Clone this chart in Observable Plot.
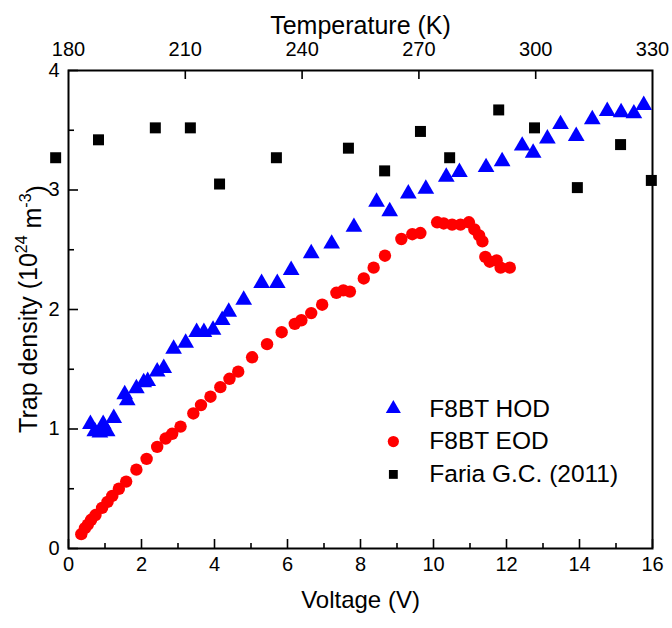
<!DOCTYPE html>
<html>
<head>
<meta charset="utf-8">
<script src="https://cdn.jsdelivr.net/npm/d3@7"></script>
<script src="https://cdn.jsdelivr.net/npm/@observablehq/plot@0.6"></script>
<style>
  html, body { margin: 0; padding: 0; background: #fff; }
  #chart { width: 672px; height: 628px; }
</style>
</head>
<body>
<div id="chart"></div>
<script>
// ---------- Data ----------
// F8BT HOD (blue triangles): voltage (V) and trap density (1e24 m^-3)
const hodVoltage = [0.60, 0.72, 0.86, 0.95, 1.06, 1.24, 1.54, 1.61, 1.86, 2.06, 2.17, 2.43, 2.61, 2.88, 3.21, 3.51, 3.71, 3.96, 4.21, 4.39, 4.80, 5.29, 5.72, 6.10, 6.65, 7.21, 7.82, 8.44, 8.80, 9.31, 9.79, 10.35, 10.71, 11.44, 11.88, 12.43, 12.73, 13.12, 13.48, 13.91, 14.35, 14.76, 15.14, 15.49, 15.76];
const hodDensity = [1.04, 0.98, 0.97, 1.04, 0.98, 1.09, 1.29, 1.24, 1.34, 1.39, 1.40, 1.48, 1.51, 1.67, 1.72, 1.81, 1.81, 1.83, 1.91, 1.98, 2.08, 2.22, 2.22, 2.33, 2.47, 2.55, 2.69, 2.90, 2.82, 2.97, 3.01, 3.11, 3.15, 3.19, 3.24, 3.37, 3.31, 3.43, 3.55, 3.45, 3.59, 3.66, 3.65, 3.64, 3.71];

// F8BT EOD (red circles)
const eodVoltage = [0.35, 0.45, 0.53, 0.62, 0.74, 0.92, 1.07, 1.20, 1.38, 1.58, 1.86, 2.14, 2.43, 2.66, 2.84, 3.07, 3.42, 3.63, 3.89, 4.16, 4.41, 4.65, 5.03, 5.44, 5.84, 6.20, 6.38, 6.65, 6.95, 7.34, 7.53, 7.71, 8.09, 8.36, 8.67, 9.12, 9.42, 9.64, 10.10, 10.28, 10.51, 10.74, 10.97, 11.12, 11.25, 11.34, 11.42, 11.54, 11.73, 11.84, 12.09];
const eodDensity = [0.12, 0.17, 0.20, 0.24, 0.28, 0.34, 0.39, 0.44, 0.50, 0.56, 0.66, 0.75, 0.85, 0.92, 0.96, 1.02, 1.13, 1.20, 1.27, 1.35, 1.42, 1.48, 1.60, 1.71, 1.81, 1.88, 1.91, 1.97, 2.04, 2.14, 2.16, 2.15, 2.26, 2.35, 2.45, 2.59, 2.63, 2.64, 2.73, 2.72, 2.71, 2.71, 2.73, 2.67, 2.62, 2.57, 2.44, 2.40, 2.41, 2.35, 2.35];

// Faria G.C. (2011) (black squares): temperature (K) on the top axis
const fariaTemperature = [176.7, 187.7, 202.3, 211.3, 218.8, 233.4, 251.9, 261.2, 270.4, 277.9, 290.5, 299.7, 310.7, 321.8, 329.7];
const fariaDensity = [3.27, 3.42, 3.52, 3.52, 3.05, 3.27, 3.35, 3.16, 3.49, 3.27, 3.67, 3.52, 3.02, 3.38, 3.08];

// Axes
const voltageTicks = [0, 2, 4, 6, 8, 10, 12, 14, 16];
const voltageMinorTicks = [1, 3, 5, 7, 9, 11, 13, 15];
const densityTicks = [0, 1, 2, 3, 4];
const densityMinorTicks = [0.5, 1.5, 2.5, 3.5];
const temperatureTicks = [180, 210, 240, 270, 300, 330];
const temperatureInnerTicks = [210, 240, 270, 300];
const voltageDomain = [0, 16];
const temperatureDomain = [180, 330];
const densityDomain = [0, 4];

// Legend
const seriesNames = ["F8BT HOD", "F8BT EOD", "Faria G.C. (2011)"];
const seriesColors = ["#0000ff", "#ff0000", "#000000"];
const seriesSymbols = ["triangle", "circle", "square"];

// ---------- Build tables ----------
// Temperature is mapped linearly onto the voltage scale (shared x position)
const tToV = t => voltageDomain[0] + (t - temperatureDomain[0]) * (voltageDomain[1] - voltageDomain[0]) / (temperatureDomain[1] - temperatureDomain[0]);
const vToT = v => temperatureDomain[0] + (v - voltageDomain[0]) * (temperatureDomain[1] - temperatureDomain[0]) / (voltageDomain[1] - voltageDomain[0]);

const hod = hodVoltage.map((v, i) => ({x: v, y: hodDensity[i]}));
const eod = eodVoltage.map((v, i) => ({x: v, y: eodDensity[i]}));
const faria = fariaTemperature.map((t, i) => ({x: tToV(t), y: fariaDensity[i]}));
const legend = seriesNames.map((name, i) => ({name, color: seriesColors[i], symbol: seriesSymbols[i], i}));

const W = 672, H = 628;
const mL = 68, mR = 20, mT = 70, mB = 80;
const frameW = W - mL - mR, frameH = H - mT - mB;
const FONT = "'Liberation Sans', Arial, Helvetica, sans-serif";

const legendX = 8.9, legendY0 = 1.17, legendStep = 0.275;
const legendSizes = [5.6, 5.6, 5.0];

// tick lengths in pixels, converted to data units of each scale
const majorTick = 9, minorTick = 5, majorTickY = 10, minorTickY = 6;
const yPerPx = (densityDomain[1] - densityDomain[0]) / frameH;
const xPerPx = (voltageDomain[1] - voltageDomain[0]) / frameW;
const tickStyle = {stroke: "#000", strokeWidth: 1.6};

const plot = Plot.plot({
  width: W,
  height: H,
  marginLeft: mL,
  marginRight: mR,
  marginTop: mT,
  marginBottom: mB,
  style: {fontFamily: FONT, fontSize: "20px", color: "#000", background: "#fff"},
  x: {domain: voltageDomain},
  y: {domain: densityDomain},
  r: {type: "identity"},
  marks: [
    // inward ticks
    Plot.ruleX(voltageTicks, {x: d => d, y1: () => densityDomain[0], y2: () => densityDomain[0] + majorTick * yPerPx, ...tickStyle}),
    Plot.ruleX(voltageMinorTicks, {x: d => d, y1: () => densityDomain[0], y2: () => densityDomain[0] + minorTick * yPerPx, ...tickStyle}),
    Plot.ruleX(temperatureInnerTicks.map(tToV), {x: d => d, y1: () => densityDomain[1], y2: () => densityDomain[1] - majorTick * yPerPx, ...tickStyle}),
    Plot.ruleY(densityTicks, {y: d => d, x1: () => voltageDomain[0], x2: () => voltageDomain[0] + majorTickY * xPerPx, ...tickStyle}),
    Plot.ruleY(densityMinorTicks, {y: d => d, x1: () => voltageDomain[0], x2: () => voltageDomain[0] + minorTickY * xPerPx, ...tickStyle}),
    // tick labels
    Plot.axisX({anchor: "bottom", ticks: voltageTicks, tickSize: 0, tickPadding: 8, tickFormat: d => String(d), label: null, fontSize: 20}),
    Plot.axisX({anchor: "top", ticks: temperatureTicks.map(tToV), tickSize: 0, tickPadding: 15,
      tickFormat: d => String(Math.round(vToT(d))), label: null, fontSize: 20}),
    Plot.axisY({anchor: "left", ticks: densityTicks, tickSize: 0, tickPadding: 9, tickFormat: d => String(d), label: null, fontSize: 20}),
    Plot.frame({stroke: "#000", strokeWidth: 2}),
    // axis titles
    Plot.text(["Voltage (V)"], {frameAnchor: "bottom", dy: 59, fontSize: 24, fill: "#000"}),
    Plot.text(["Temperature (K)"], {frameAnchor: "top", dy: -54, fontSize: 25, fill: "#000"}),
    // data
    Plot.dot(faria, {x: "x", y: "y", symbol: "square", r: 6.2, fill: seriesColors[2], stroke: "none"}),
    Plot.dot(eod, {x: "x", y: "y", symbol: "circle", r: 6.2, fill: seriesColors[1], stroke: "none"}),
    Plot.dot(hod, {x: "x", y: "y", symbol: "triangle", r: 6.2, fill: seriesColors[0], stroke: "none"}),
    // legend
    Plot.dot(legend, {x: () => legendX, y: d => legendY0 - d.i * legendStep, symbol: d => d.symbol, r: d => legendSizes[d.i], fill: d => d.color, stroke: "none"}),
    Plot.text(legend, {x: () => legendX, y: d => legendY0 - d.i * legendStep, text: "name", dx: 36, textAnchor: "start", fontSize: 24.5, fill: "#000"})
  ]
});

// y-axis title with superscripts
const svg = d3.select(plot);
const cx = 28, cy = mT + frameH / 2;
const title = svg.append("text")
  .attr("transform", `translate(${cx},${cy}) rotate(-90)`)
  .attr("text-anchor", "middle")
  .attr("dominant-baseline", "central")
  .attr("font-size", 25)
  .attr("font-family", FONT)
  .attr("fill", "#000");
title.append("tspan").text("Trap density (10");
title.append("tspan").attr("font-size", 16).attr("dy", "-0.45em").text("24");
title.append("tspan").attr("dy", "0.45em").text(" m");
title.append("tspan").attr("font-size", 16).attr("dy", "-0.45em").text("-3");
title.append("tspan").attr("dy", "0.45em").text(")");

document.getElementById("chart").appendChild(plot);
</script>
</body>
</html>
